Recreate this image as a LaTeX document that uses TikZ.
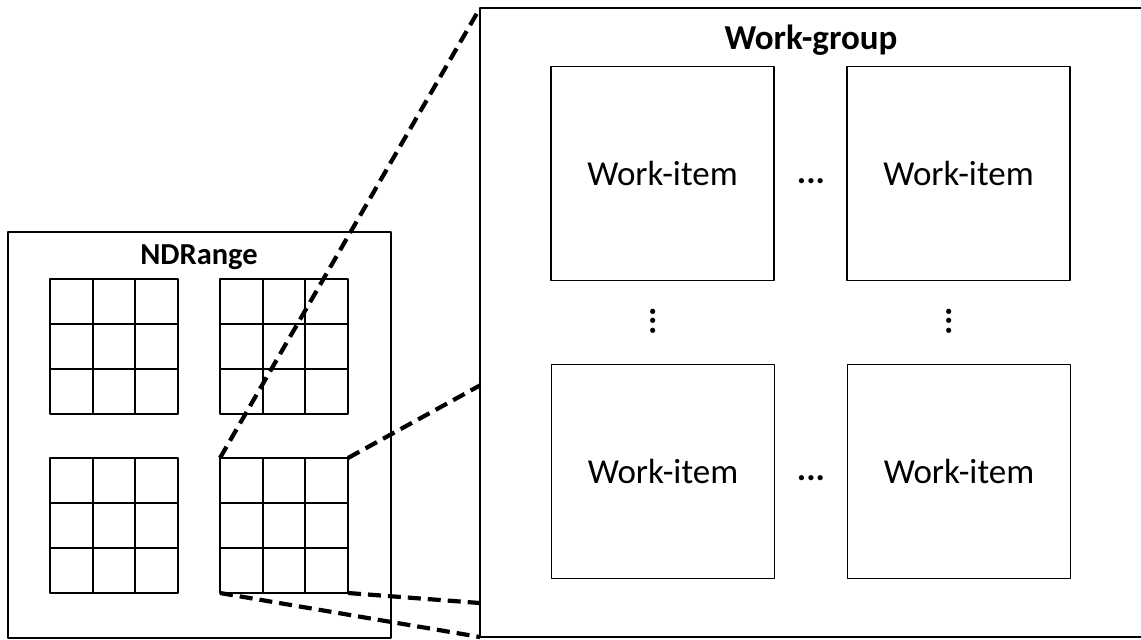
\documentclass[tikz,border=0pt]{standalone}
\usepackage{fontspec}
\setmainfont{Carlito}
\usetikzlibrary{calc}
\begin{document}
\begin{tikzpicture}[x=1pt,y=-1pt,line join=round]
    \tikzset{
        box/.style={draw,line width=1.7pt,inner sep=0pt,outer sep=0pt},
        cellgrid/.style={box,minimum width=128pt,minimum height=135pt,anchor=north west},
        itembox/.style={box,minimum width=223pt,minimum height=214pt,font=\fontsize{35}{42}\selectfont},
        dots/.style={inner sep=0pt,font=\bfseries\fontsize{35}{42}\selectfont},
        zoomline/.style={line width=4.2pt,dash pattern=on 13pt off 7pt}
    }
    \useasboundingbox (0,0) rectangle (1141,640);
    \clip (0,0) rectangle (1141,640);
    %===============================
    % NDRange with its four work-groups
    \node[box,line width=1.4pt,minimum width=383pt,minimum height=406pt,anchor=north west] (nd) at (8,232) {};
    \node[font=\bfseries\fontsize{30.5}{36}\selectfont] (ndlabel) at (199,257) {NDRange};
    \foreach \n/\x/\y in {1/50/279,2/220/279,3/50/458,4/220/458}{
        \node[cellgrid] (g\n) at (\x,\y) {};
        \foreach \i in {1,2}{
            \draw[line width=1.7pt] ($(g\n.north west)!\i/3!(g\n.north east)$) -- ($(g\n.south west)!\i/3!(g\n.south east)$);
            \draw[line width=1.7pt] ($(g\n.north west)!\i/3!(g\n.south west)$) -- ($(g\n.north east)!\i/3!(g\n.south east)$);
        }
    }
    %===============================
    % one work-group, enlarged
    \node[box,line width=1.4pt,minimum width=690pt,minimum height=629pt,anchor=north west] (wg) at (480,8) {};
    \node[font=\bfseries\fontsize{35}{42}\selectfont] (wglabel) at (811,40) {Work-group};
    \node[itembox] (w11) at (662.5,173.5) {Work-item};
    \node[itembox] (w12) at (958.5,173.5) {Work-item};
    \node[itembox] (w21) at (663,471.5) {Work-item};
    \node[itembox] (w22) at (959,471.5) {Work-item};
    \node[dots] (h1) at (811,181) {...};
    \node[dots] (h2) at (811,478) {...};
    \node[dots,rotate=90] (v1) at (653,321) {...};
    \node[dots,rotate=90] (v2) at (949,321) {...};
    %===============================
    \coordinate (wgA) at ($(wg.north west)!0.6!(wg.south west)$);
    \coordinate (wgB) at ($(wg.north west)!0.946!(wg.south west)$);
    \draw[zoomline] (g4.north west) -- (wg.north west);
    \draw[zoomline] (g4.north east) -- (wgA);
    \draw[zoomline] (g4.south east) -- (wgB);
    \draw[zoomline] (g4.south west) -- (wg.south west);
\end{tikzpicture}
\end{document}
